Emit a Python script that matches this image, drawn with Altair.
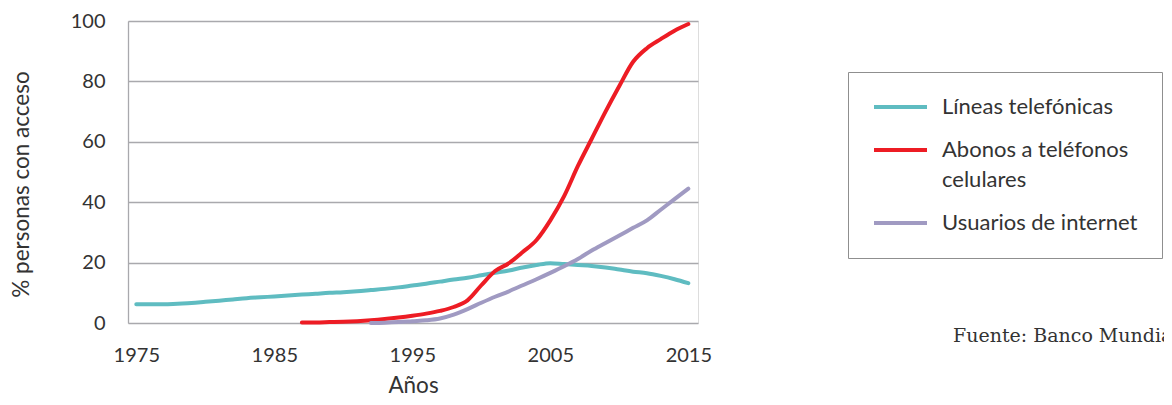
import altair as alt
import pandas as pd

# ---- data ----
series = ["Líneas telefónicas", "Abonos a teléfonos celulares", "Usuarios de internet"]
colors = ["#5fbcc1", "#ed1c24", "#a09ac2"]

years_lineas = list(range(1975, 2016))
lineas = [6.2, 6.2, 6.2, 6.4, 6.6, 7.0, 7.4, 7.8, 8.2, 8.5,
          8.8, 9.1, 9.4, 9.7, 10.0, 10.2, 10.5, 10.9, 11.3, 11.8,
          12.4, 13.0, 13.7, 14.4, 15.0, 15.8, 16.6, 17.4, 18.4, 19.2,
          19.8, 19.5, 19.2, 18.9, 18.4, 17.7, 17.0, 16.5, 15.6, 14.5,
          13.2]

years_celulares = list(range(1987, 2016))
celulares = [0.2, 0.2, 0.3, 0.4, 0.6, 0.9, 1.3, 1.8, 2.4, 3.1,
             4.0, 5.3, 7.5, 12.5, 17.2, 19.8, 23.5, 27.5, 34.0, 42.0,
             52.0, 61.0, 70.0, 78.5, 86.5, 91.0, 94.0, 96.8, 99.0]

years_internet = list(range(1992, 2016))
internet = [0.0, 0.1, 0.3, 0.6, 0.9, 1.5, 2.8, 4.6, 6.7, 8.7,
            10.5, 12.5, 14.5, 16.6, 18.8, 21.2, 24.0, 26.5, 29.0, 31.5,
            34.0, 37.5, 41.0, 44.5]

x_ticks = [1975, 1985, 1995, 2005, 2015]
y_ticks = [0, 20, 40, 60, 80, 100]
source_note = ["Fuente: Banco Mundial"]

rows = []
for name, yrs, vals in [(series[0], years_lineas, lineas),
                        (series[1], years_celulares, celulares),
                        (series[2], years_internet, internet)]:
    for yr, v in zip(yrs, vals):
        rows.append({"year": yr, "value": v, "series": name})
df = pd.DataFrame(rows)

FONT = "Lato"
TXT = "#333333"
GRID = "#a9a9ad"

label_expr = (
    "(datum.label == 'Abonos a teléfonos celulares' ? "
    "['Abonos a teléfonos', 'celulares'] : "
    "datum.label + '\u2003\u2003\u2003')"
)

lines = alt.Chart(df).mark_line(
    strokeWidth=4, strokeCap="round", strokeJoin="round", interpolate="monotone"
).encode(
    x=alt.X("year:Q",
            scale=alt.Scale(domain=[1974.4, 2015.7], nice=False, zero=False),
            axis=alt.Axis(values=x_ticks, format="d", grid=False, domain=False,
                          ticks=False, labelPadding=22, labelFont=FONT,
                          labelFontSize=20, labelColor=TXT, title="Años",
                          titleFont=FONT, titleFontSize=22.5, titleFontWeight="normal",
                          titleColor=TXT, titlePadding=9)),
    y=alt.Y("value:Q",
            scale=alt.Scale(domain=[0, 100], nice=False),
            axis=alt.Axis(values=y_ticks, grid=True, gridColor=GRID, gridWidth=1.3,
                          domain=True, domainColor=GRID, domainWidth=1.3,
                          ticks=False, labelPadding=23, labelFont=FONT,
                          labelFontSize=20, labelColor=TXT,
                          title="% personas con acceso", titleFont=FONT,
                          titleFontSize=22.5, titleFontWeight="normal",
                          titleColor=TXT, titlePadding=37, titleY=163)),
    color=alt.Color("series:N",
                    scale=alt.Scale(domain=series, range=colors),
                    legend=alt.Legend(orient="none", legendX=720, legendY=51,
                                      title=None, symbolType="stroke",
                                      symbolSize=2809, symbolStrokeWidth=4,
                                      labelFont=FONT, labelFontSize=22,
                                      labelColor=TXT, labelOffset=13,
                                      labelLimit=500, labelExpr=label_expr,
                                      padding=24, strokeColor="#8f8f8f",
                                      clipHeight=22, rowPadding=21)),
    detail="series:N",
)

note = alt.Chart(pd.DataFrame({"t": source_note})).mark_text(
    align="left", baseline="alphabetic", font="DejaVu Serif", fontSize=19,
    color=TXT
).encode(text="t:N", x=alt.value(825), y=alt.value(321))

chart = alt.layer(lines, note).properties(
    width=570, height=302,
    padding={"left": 120, "top": 13, "right": 466, "bottom": 73},
    autosize=alt.AutoSizeParams(type="none"),
).configure_view(stroke=None).configure(
    style={"guide-label": {"lineHeight": 30}}
)

chart.save("out.html", embed_options={"renderer": "svg", "actions": False})
